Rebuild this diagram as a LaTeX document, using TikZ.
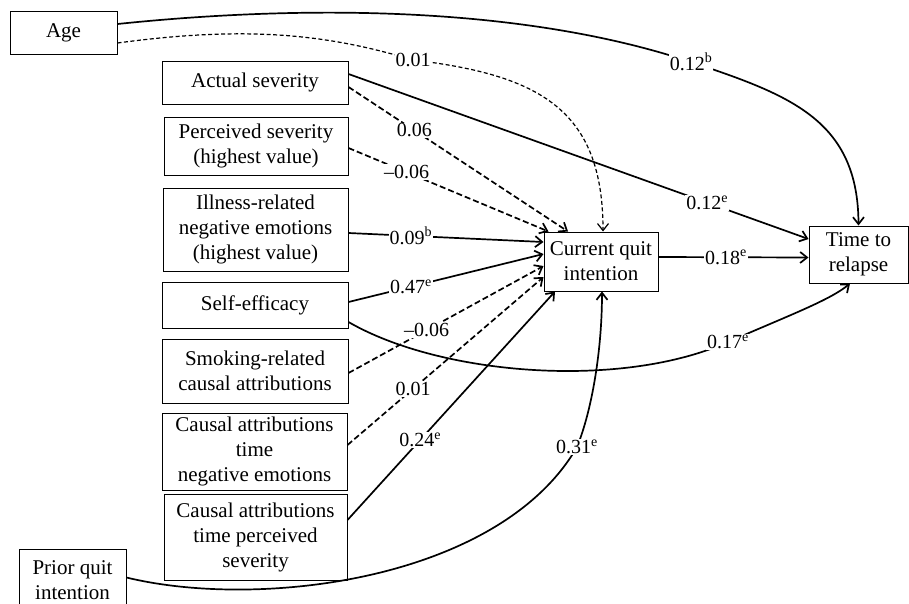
\documentclass[tikz,border=0pt]{standalone}
\usepackage{fontspec}
\setmainfont{Liberation Serif}
\usetikzlibrary{arrows.meta}
\begin{document}
\begin{tikzpicture}[x=1pt,y=-1pt,
  box/.style={draw, line width=1pt, inner sep=0pt, align=center, font=\fontsize{21}{25}\selectfont},
  lab/.style={fill=white, inner sep=1pt, font=\fontsize{20}{22}\selectfont},
  conn/.style={line width=1.7pt, -{Straight Barb[length=7pt,width=11pt]}},
  dsh/.style={conn, dash pattern=on 6pt off 3pt},
  fdsh/.style={conn, line width=1.2pt, dash pattern=on 4pt off 2.5pt}]
\useasboundingbox (0,0) rectangle (909,603);
% boxes
\node[box, minimum width=107pt, minimum height=43pt] (age) at (63.5,32.5) {Age};
\node[box, minimum width=186pt, minimum height=43pt] (act) at (255,82.5) {Actual severity};
\node[box, minimum width=184pt, minimum height=58pt] (per) at (256,146) {Perceived severity\\(highest value)};
\node[box, minimum width=185pt, minimum height=83pt] (ill) at (255.5,229.5) {Illness-related\\negative emotions\\(highest value)};
\node[box, minimum width=186pt, minimum height=46pt] (se) at (255,305) {Self-efficacy};
\node[box, minimum width=186pt, minimum height=64pt] (smk) at (255,371) {Smoking-related\\causal attributions};
\node[box, minimum width=185pt, minimum height=77pt] (can) at (254.5,451.5) {Causal attributions\\time\\negative emotions};
\node[box, minimum width=183pt, minimum height=86pt] (cap) at (255.5,537) {Causal attributions\\time perceived\\severity};
\node[box, minimum width=107pt, minimum height=62pt] (pqi) at (72.5,580) {Prior quit\\intention};
\node[box, minimum width=114pt, minimum height=59pt] (cqi) at (601,261.5) {Current quit\\intention};
\node[box, minimum width=99pt, minimum height=57pt] (ttr) at (858.5,254.5) {Time to\\relapse};
% curved connectors
\draw[conn] ([yshift=8.5pt]age.east) .. controls (300,5) and (520,5) .. (691,62)
  node[lab]{0.12\textsuperscript{b}} .. controls (790,95) and (858,120) .. (ttr.north);
\draw[fdsh] ([yshift=-10.5pt]age.east) .. controls (250,25) and (330,35) .. (413,60)
  node[lab]{0.01} .. controls (540,75) and (603,110) .. ([xshift=2pt]cqi.north);
\draw[conn] ([yshift=-17pt]se.east) .. controls (440,375) and (620,390) .. (728,342)
  node[lab]{0.17\textsuperscript{e}} .. controls (790,315) and (830,300) .. ([xshift=-8.5pt]ttr.south);
\draw[conn] ([yshift=2.5pt]pqi.east) .. controls (260,610) and (500,580) .. (577,447)
  node[lab]{0.31\textsuperscript{e}} .. controls (592,410) and (602,350) .. ([xshift=1pt]cqi.south);
% straight connectors
\draw[dsh] ([yshift=-4.5pt]act.east) -- node[lab,pos=0.30]{0.06} ([xshift=-33pt]cqi.north);
\draw[dsh] ([yshift=-2pt]per.east) -- node[lab,pos=0.29]{--0.06} ([xshift=5pt]cqi.north west);
\draw[conn] ([yshift=-3.5pt]ill.east) -- node[lab,pos=0.32]{0.09\textsuperscript{b}} ([yshift=19.5pt]cqi.west);
\draw[conn] ([yshift=3pt]se.east) -- node[lab,pos=0.32]{0.47\textsuperscript{e}} ([yshift=7.5pt]cqi.west);
\draw[dsh] ([yshift=-2pt]smk.east) -- node[lab,pos=0.40]{--0.06} ([yshift=-4.5pt]cqi.west);
\draw[dsh] ([yshift=6.5pt]can.east) -- node[lab,pos=0.335]{0.01} ([yshift=-15.5pt]cqi.west);
\draw[conn] ([yshift=17pt]cap.east) -- node[lab,pos=0.35]{0.24\textsuperscript{e}} ([xshift=-46pt]cqi.south);
\draw[conn] ([yshift=8.5pt]act.east) -- node[lab,pos=0.78]{0.12\textsuperscript{e}} ([yshift=15.5pt]ttr.west);
\draw[conn] ([yshift=4.5pt]cqi.east) -- node[lab,pos=0.45]{0.18\textsuperscript{e}} ([yshift=-3pt]ttr.west);
\end{tikzpicture}
\end{document}
